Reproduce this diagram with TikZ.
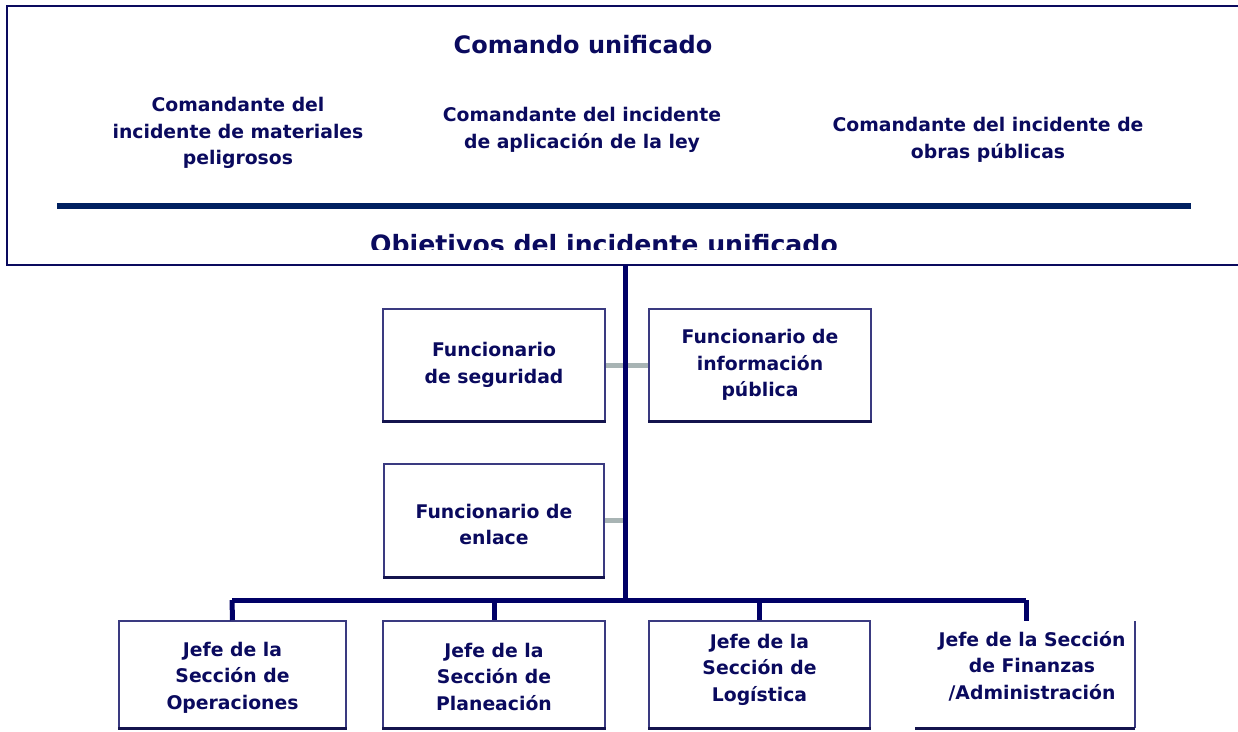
\documentclass[tikz,border=0pt]{standalone}
\usepackage{fontspec}
\setmainfont{DejaVu Sans}
\definecolor{navy}{HTML}{0A0A5E}
\definecolor{linenavy}{HTML}{002060}
\definecolor{trunk}{HTML}{000066}
\definecolor{boxc}{HTML}{3A3A80}
\definecolor{boxdark}{HTML}{14144E}
\definecolor{greyc}{HTML}{A8B4B4}
\begin{document}
\begin{tikzpicture}[x=1pt,y=-1pt,
  txt/.style={text=navy,font=\bfseries\fontsize{18.8}{26.5}\selectfont,align=center,inner sep=0pt},
  big/.style={text=navy,font=\bfseries\fontsize{24}{28}\selectfont,inner sep=0pt},
  box/.style={draw=boxc,line width=1.6pt,fill=white,minimum width=222pt,minimum height=112pt,inner sep=0pt},
  thick trunk/.style={draw=trunk,line width=5pt},
  shadowbot/.style={draw=boxdark,line width=3pt},
  greylink/.style={draw=greyc,line width=5pt}]
\useasboundingbox (0,0) rectangle (1238,731);
% top frame
\coordinate (tr) at (1238,6);
\coordinate (tl) at (7,6);
\coordinate (bl) at (7,265);
\coordinate (br) at (1238,265);
\draw[draw=navy,line width=2pt] (tr) -- (tl) -- (bl) -- (br);
\node[big] (cu) at (583,45) {Comando unificado};
\node[txt] (c1) at (238,133) {Comandante del\\incidente de materiales\\peligrosos};
\node[txt] (c2) at (582,130) {Comandante del incidente\\de aplicación de la ley};
\node[txt] (c3) at (988,140) {Comandante del incidente de\\obras públicas};
\coordinate (la) at (57,206);
\coordinate (lb) at (1191,206);
\draw[draw=linenavy,line width=6pt] (la) -- (lb);
\begin{scope}
\clip (8,220) rectangle (1238,249);
\node[big,font=\bfseries\fontsize{25.2}{28}\selectfont,anchor=base] (obj) at (604,253) {Objetivos del incidente unificado};
\end{scope}
% trunk
\coordinate (t0) at (625,265);
\coordinate (t1) at (625,600);
% boxes
\node[box] (seg) at (494,365) {};
\node[box] (info) at (760,365) {};
\node[box,minimum height=113pt,minimum width=220pt] (enl) at (494,520.5) {};
\node[box,minimum width=227pt,minimum height=107pt] (ops) at (232.5,674.5) {};
\node[box,minimum height=107pt] (plan) at (494,674.5) {};
\node[box,minimum width=221pt,minimum height=107pt] (log) at (759.5,674.5) {};
\foreach \b in {seg,info,enl,ops,plan,log}{
  \draw[shadowbot] (\b.south west) -- (\b.south east);
}
\coordinate (fintr) at (1135,621);
\coordinate (finbr) at (1135,728);
\coordinate (finbl) at (915,728);
\coordinate (fin) at (1026,621);
\draw[draw=boxc,line width=1.6pt] (fintr) -- (finbr);
\draw[shadowbot] (finbr) -- (finbl);
% links
\draw[greylink] (seg.east) -- (info.west);
\draw[greylink] (enl.east) -- (enl.east -| t0);
\draw[thick trunk] (t0) -- (t1);
\coordinate (b1) at (232,600);
\coordinate (b4) at (1026,600);
\draw[thick trunk] (b1) -- (b4);
\draw[thick trunk] (b1) -- (ops.north);
\draw[thick trunk] (plan.north |- b1) -- (plan.north);
\draw[thick trunk] (log.north |- b1) -- (log.north);
\draw[thick trunk] (b4) -- (fin);
% box texts
\node[txt] (tseg) at (seg.center) {Funcionario\\de seguridad};
\node[txt] (tinfo) at (info.center) {Funcionario de\\información\\pública};
\node[txt] (tenl) at ([yshift=-4pt]enl.center) {Funcionario de\\enlace};
\node[txt] (tops) at ([yshift=-3pt]ops.center) {Jefe de la\\Sección de\\Operaciones};
\node[txt] (tplan) at ([yshift=-2pt]plan.center) {Jefe de la\\Sección de\\Planeación};
\node[txt] (tlog) at ([yshift=5pt]log.center) {Jefe de la\\Sección de\\Logística};
\node[txt] (tfin) at (1032,666) {Jefe de la Sección\\de Finanzas\\/Administración};
\end{tikzpicture}
\end{document}
